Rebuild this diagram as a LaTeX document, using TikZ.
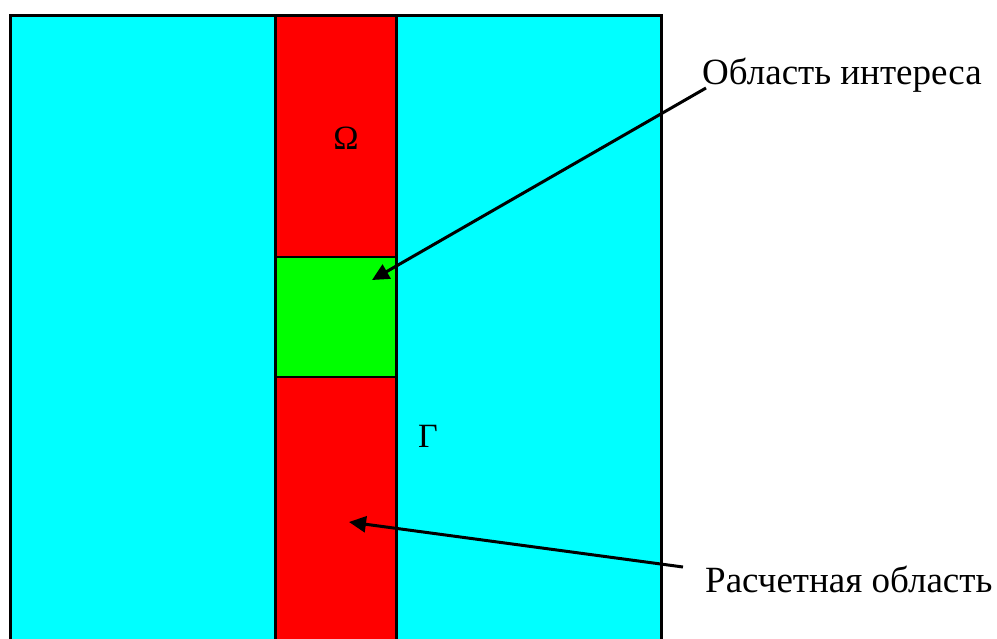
\documentclass[tikz,border=0pt]{standalone}
\usepackage{fontspec}
\setmainfont{Liberation Serif}
\usetikzlibrary{arrows.meta}
\definecolor{cy}{RGB}{0,255,255}
\definecolor{rd}{RGB}{255,0,0}
\definecolor{gr}{RGB}{0,255,0}
\begin{document}
\begin{tikzpicture}[x=1pt,y=-1pt,
  lbl/.style={font=\fontsize{37}{44}\selectfont, inner sep=0pt, anchor=west},
  sym/.style={font=\fontsize{34}{40}\selectfont, inner sep=0pt},
  pointer/.style={line width=3pt, -{Triangle[length=17pt,width=16pt]}}]
\useasboundingbox (0,0) rectangle (997,638);
\begin{scope}
\clip (0,0) rectangle (997,638);
\draw[fill=cy, line width=3pt] (10,15) rectangle (661,660);
\draw[fill=rd, line width=2.2pt] (275.5,15) rectangle (396.5,660);
\draw[fill=gr, line width=2.2pt] (275.5,257) rectangle (396.5,377);
\draw[line width=3pt] (10,15) rectangle (661,660);
\end{scope}
\node[sym] (omega) at (346,138) {Ω};
\node[sym] (gamma) at (428,436) {Γ};
\node[lbl] (roi) at (702,75) {Область интереса};
\node[lbl] (calc) at (705,579) {Расчетная область};
\coordinate (roiS) at (706,88);
\coordinate (roiT) at (372,280);
\coordinate (calcS) at (683,567);
\coordinate (calcT) at (349,522);
\draw[pointer] (roiS) -- (roiT);
\draw[pointer] (calcS) -- (calcT);
\end{tikzpicture}
\end{document}
